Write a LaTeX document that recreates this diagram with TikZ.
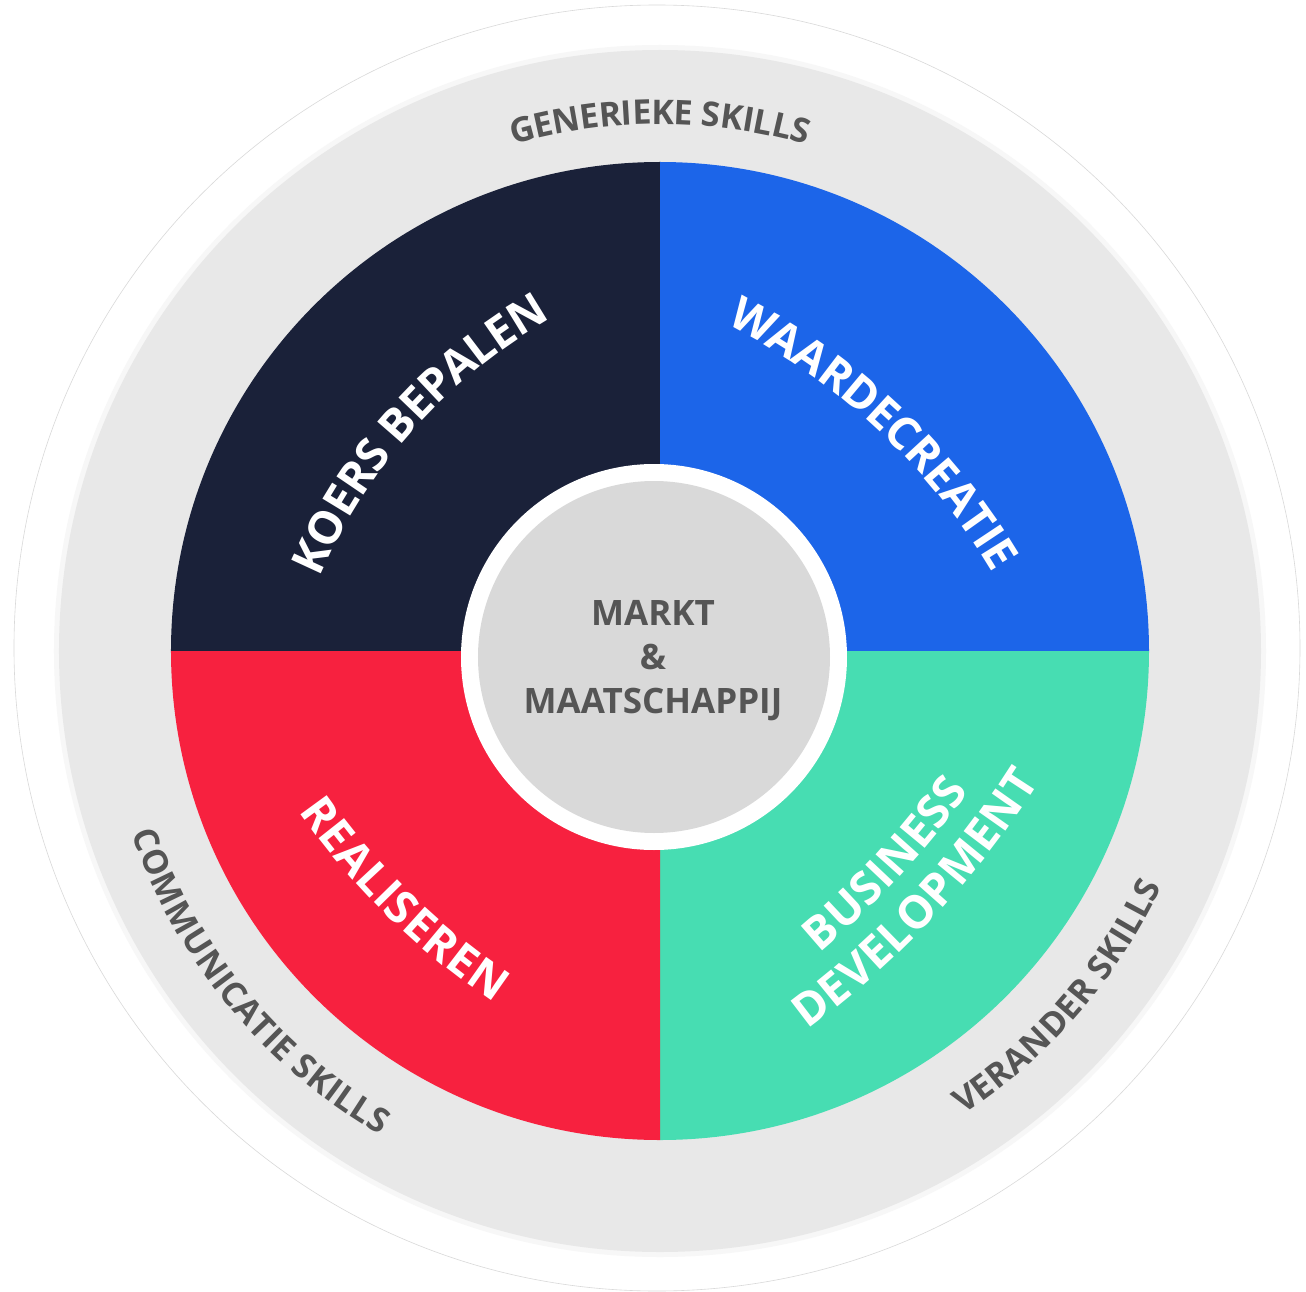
\documentclass[tikz,border=0pt]{standalone}
\usepackage{fontspec}
\setmainfont{Open Sans}
\usetikzlibrary{decorations.text}
\definecolor{qnavy}{HTML}{1A2139}
\definecolor{qblue}{HTML}{1C65E9}
\definecolor{qred}{HTML}{F7213F}
\definecolor{qteal}{HTML}{47DDB2}
\definecolor{ringgray}{HTML}{E8E8E8}
\definecolor{coregray}{HTML}{D9D9D9}
\definecolor{txtgray}{HTML}{555555}
\newcommand\qlabelfont{\fontsize{45.5}{48}\selectfont\bfseries}
\newcommand\ringfont{\fontsize{34}{38}\selectfont\bfseries}
\tikzset{
  ringtext/.style={decorate, decoration={text along path, text align=center, raise=-12.1pt,
     text={|\ringfont\color{txtgray}|#1}}},
  quadtext/.style={decorate, decoration={text along path, text align=center, raise=-16.2pt,
     text={|\qlabelfont\color{white}|#1}}},
}
\begin{document}
\begin{tikzpicture}[x=1pt,y=1pt]
\useasboundingbox (-660,-640) rectangle (646,651);
\fill[white] (-660,-640) rectangle (646,651);
% faint outer rim and halo
\draw[black!15, line width=0.6] (-3,3) circle[radius=643];
\fill[black!3] (0,0) circle[radius=606];
% gray ring
\fill[ringgray] (0,0) circle[radius=601];
% quadrants
\fill[qnavy] (0,0) -- (-489,0) arc[start angle=180, end angle=90, radius=489] -- cycle;
\fill[qblue] (0,0) -- (0,489) arc[start angle=90, end angle=0, radius=489] -- cycle;
\fill[qteal] (0,0) -- (489,0) arc[start angle=0, end angle=-90, radius=489] -- cycle;
\fill[qred] (0,0) -- (0,-489) arc[start angle=-90, end angle=-180, radius=489] -- cycle;
% core
\fill[white] (-6,-6) circle[radius=193];
\fill[coregray] (-6,-6) circle[radius=176];
\node[font=\fontsize{35}{44}\selectfont\bfseries, text=txtgray, align=center] (core) at (-7,-10)
  {MARKT\\\&\\MAATSCHAPPIJ};
% ring labels
\path[ringtext={GENERIEKE SKILLS}] (125:539) arc[start angle=125, end angle=55, radius=539];
\path[ringtext={COMMUNICATIE SKILLS}] (184.5:547) arc[start angle=184.5, end angle=254.5, radius=547];
\path[ringtext={VERANDER SKILLS}] (-76:542) arc[start angle=-76, end angle=-6, radius=542];
% quadrant labels
\path[shift={(159.6,-140.8)}, quadtext={KOERS BEPALEN}] (168.2:560) arc[start angle=168.2, end angle=108.2, radius=560];
\path[shift={(-228.5,-256.8)}, quadtext={WAARDECREATIE}] (77:670) arc[start angle=77, end angle=17, radius=670];
\path[shift={(249.5,267.9)}, quadtext={REALISEREN}] (200.6:730) arc[start angle=200.6, end angle=250.6, radius=730];
\path[shift={(-394.9,359.5)}, quadtext={BUSINESS}] (-62.7:847) arc[start angle=-62.7, end angle=-22.7, radius=847];
\path[shift={(-394.9,359.5)}, quadtext={DEVELOPMENT}] (-63:900) arc[start angle=-63, end angle=-23, radius=900];
\end{tikzpicture}
\end{document}
